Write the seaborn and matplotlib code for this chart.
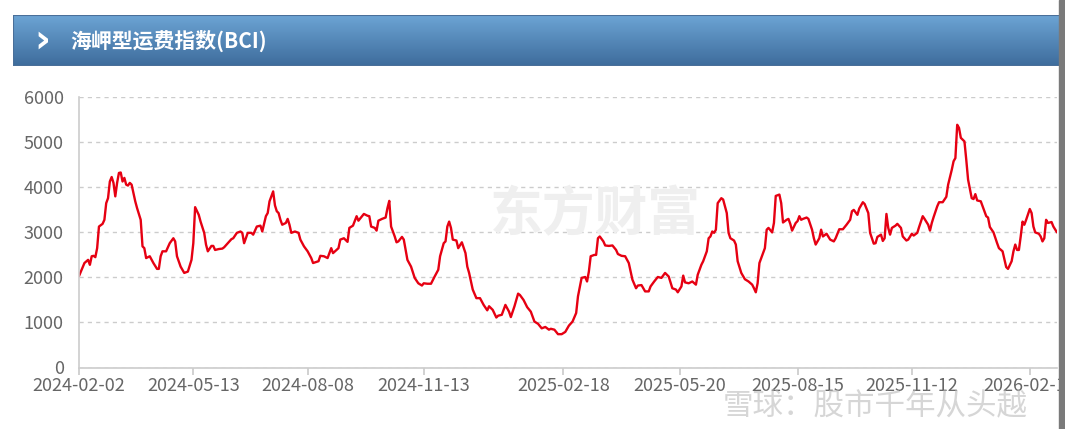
import numpy as np
import pandas as pd
import seaborn as sns
import matplotlib.pyplot as plt
from matplotlib.patches import Rectangle

# BCI readings, x = trading-day number counted from 2024-02-02
day = [0, 3, 5, 6, 7, 8, 9, 10, 11, 13, 14, 15, 16, 17, 18, 19, 20, 21, 22, 23, 24, 25, 26, 27, 28, 29,
       31, 32, 34, 35, 36, 37, 39, 41, 43, 44, 45, 46, 48, 50, 52, 53, 54, 56, 58, 60, 62, 63, 64, 66,
       67, 69, 70, 71, 73, 74, 75, 77, 79, 80, 82, 84, 85, 87, 89, 90, 91, 93, 95, 96, 98, 100, 101, 103,
       104, 105, 107, 108, 109, 110, 111, 112, 114, 115, 116, 117, 119, 121, 122, 124, 126, 128, 129, 132,
       133, 135, 137, 139, 140, 143, 144, 146, 148, 149, 151, 153, 154, 157, 159, 160, 161, 163, 164, 165,
       167, 169, 170, 171, 172, 174, 175, 176, 178, 179, 181, 183, 185, 187, 189, 190, 192, 194, 196, 198,
       199, 201, 202, 203, 204, 205, 206, 208, 209, 211, 213, 214, 215, 217, 219, 221, 223, 225, 226, 228,
       230, 231, 233, 235, 237, 238, 240, 242, 243, 245, 247, 249, 251, 253, 255, 257, 259, 260, 262, 264,
       266, 268, 270, 272, 274, 275, 277, 279, 280, 281, 282, 284, 285, 286, 287, 289, 290, 292, 294, 296,
       297, 299, 301, 303, 305, 307, 308, 310, 312, 314, 315, 317, 319, 321, 323, 325, 327, 329, 330, 332,
       333, 334, 336, 338, 340, 341, 343, 344, 346, 347, 348, 349, 350, 351, 352, 354, 355, 357, 358, 359,
       361, 362, 363, 365, 367, 369, 371, 372, 373, 374, 375, 377, 378, 379, 380, 382, 383, 384, 386, 387,
       388, 390, 391, 392, 393, 395, 396, 397, 398, 399, 401, 402, 404, 405, 406, 408, 409, 410, 412, 414,
       416, 417, 419, 421, 423, 425, 426, 427, 429, 430, 432, 433, 435, 436, 438, 439, 440, 442, 443, 444,
       445, 446, 447, 448, 450, 451, 453, 454, 456, 457, 459, 460, 462, 463, 465, 466, 468, 469, 470, 471,
       473, 474, 476, 478, 479, 481, 482, 483, 484, 485, 486, 488, 489, 490, 492, 493, 494, 495, 497, 498,
       500, 501, 502, 503, 504, 506, 507, 509, 510, 511, 512, 514, 515, 516, 517, 518, 519, 520, 521, 522,
       524, 525, 526, 527, 529, 530, 531, 532, 533, 534, 536, 537, 539]
bci = [2030, 2320, 2390, 2280, 2470, 2480, 2450, 2650, 3130, 3190, 3280, 3650, 3760, 4130, 4230, 4100, 3800,
       4100, 4320, 4330, 4130, 4210, 4060, 4040, 4100, 4060, 3690, 3540, 3280, 2690, 2650, 2430, 2470, 2320,
       2190, 2190, 2470, 2580, 2580, 2760, 2870, 2800, 2470, 2240, 2100, 2130, 2390, 2760, 3560, 3390, 3240,
       2990, 2730, 2580, 2700, 2700, 2610, 2630, 2640, 2670, 2760, 2850, 2870, 2990, 3020, 2990, 2760, 2990,
       2990, 2950, 3130, 3150, 3020, 3360, 3430, 3690, 3910, 3600, 3470, 3430, 3280, 3170, 3210, 3300, 3170,
       2990, 3020, 2990, 2840, 2690, 2580, 2430, 2320, 2360, 2480, 2470, 2430, 2650, 2540, 2650, 2840, 2870,
       2790, 3100, 3150, 3360, 3260, 3410, 3370, 3360, 3130, 3100, 3040, 3260, 3300, 3330, 3540, 3700, 3130,
       2910, 2780, 2800, 2900, 2840, 2390, 2240, 1990, 1870, 1820, 1870, 1860, 1860, 2020, 2170, 2470, 2760,
       2800, 3130, 3240, 3100, 2840, 2820, 2650, 2780, 2540, 2240, 2100, 1730, 1540, 1540, 1390, 1270, 1360,
       1280, 1110, 1150, 1170, 1390, 1240, 1120, 1360, 1640, 1610, 1500, 1340, 1240, 1020, 970, 870, 900,
       840, 860, 840, 740, 740, 790, 930, 1020, 1210, 1580, 1990, 2010, 1910, 2130, 2470, 2500, 2500, 2870,
       2910, 2800, 2710, 2700, 2710, 2610, 2520, 2480, 2470, 2320, 1950, 1760, 1820, 1830, 1690, 1690, 1800,
       1910, 2010, 1990, 2100, 2020, 1760, 1730, 1670, 1800, 2040, 1890, 1870, 1910, 1840, 2060, 2280, 2360,
       2580, 2870, 2910, 3020, 2990, 3060, 3650, 3760, 3730, 3430, 2990, 2870, 2820, 2730, 2360, 2100, 1960,
       1910, 1840, 1760, 1670, 1870, 2320, 2540, 2650, 3060, 3100, 3000, 3210, 3810, 3840, 3650, 3220, 3280,
       3300, 3190, 3040, 3210, 3250, 3360, 3280, 3300, 3330, 3300, 3060, 2870, 2730, 2870, 3060, 2910, 2970,
       2840, 2800, 2870, 3070, 3070, 3170, 3280, 3470, 3500, 3390, 3530, 3670, 3630, 3430, 2990, 2750, 2760,
       2900, 2950, 2810, 2870, 3410, 3100, 2950, 3100, 3150, 3190, 3100, 2910, 2820, 2840, 2970, 2930, 2990,
       3120, 3360, 3300, 3170, 3040, 3210, 3340, 3580, 3670, 3670, 3790, 4060, 4390, 4580, 4650, 5390, 5320,
       5100, 5020, 4610, 4170, 3760, 3740, 3850, 3710, 3690, 3580, 3360, 3330, 3120, 3060, 3000, 2760, 2650,
       2580, 2410, 2230, 2190, 2360, 2580, 2730, 2610, 2610, 2910, 3240, 3170, 3280, 3520, 3430, 3130, 3000,
       2970, 2910, 2800, 2870, 3280, 3210, 3230, 3130, 3000]

tick_pos = [0, 63, 126, 190, 267, 331, 396, 459, 524]
tick_lab = ['2024-02-02', '2024-05-13', '2024-08-08', '2024-11-13', '2025-02-18',
            '2025-05-20', '2025-08-15', '2025-11-12', '2026-02-10']
y_ticks = [0, 1000, 2000, 3000, 4000, 5000, 6000]

df = pd.DataFrame({'day': day, 'BCI': bci})

sns.set_theme(style='white')
plt.rcParams['font.family'] = ['Noto Sans CJK SC', 'DejaVu Sans']

W, H = 1065, 429
fig = plt.figure(figsize=(W / 100, H / 100), dpi=100)

# header bar with blue gradient
hx0, hy0, hy1 = 13, 15, 66
hax = fig.add_axes([hx0 / W, 1 - hy1 / H, 1 - hx0 / W, (hy1 - hy0) / H])
top = np.array([0x6c, 0xa4, 0xd4]) / 255
bot = np.array([0x3e, 0x6c, 0x9c]) / 255
t = np.linspace(0, 1, 60)[:, None, None]
grad = top * (1 - t) + bot * t
hax.imshow(np.repeat(grad, 2, axis=1), aspect='auto', extent=[0, 1, 0, 1])
hax.add_patch(Rectangle((0, 0), 1, 1, transform=hax.transAxes, fill=False,
                        edgecolor='#4a6f99', linewidth=1.5))
hax.set_xlim(0, 1)
hax.set_ylim(0, 1)
hax.axis('off')
hax.text(29 / (W - hx0), 0.5, '›', color='white', fontsize=28, fontweight='bold',
         ha='center', va='center', family=['DejaVu Sans'])
hax.text(57 / (W - hx0), 0.5, '海岬型运费指数(BCI)', color='white', fontsize=15,
         fontweight='bold', ha='left', va='center')

# main chart
ax = fig.add_axes([79 / W, 1 - 367.5 / H, (1057 - 79) / W, (367.5 - 97.3) / H])
sns.lineplot(data=df, x='day', y='BCI', ax=ax, color='#e60012', linewidth=1.7)
ax.set_xlim(0, 539)
ax.set_ylim(0, 6000)
ax.set_yticks(y_ticks)
ax.set_xticks(tick_pos)
ax.set_xticklabels(tick_lab)
ax.set_xlabel('')
ax.set_ylabel('')
ax.grid(axis='y', color='#cccccc', linestyle=(0, (3, 3)), linewidth=1)
ax.grid(axis='x', visible=False)
for s in ['top', 'right']:
    ax.spines[s].set_visible(False)
for s in ['left', 'bottom']:
    ax.spines[s].set_color('#cccccc')
    ax.spines[s].set_linewidth(1.2)
ax.tick_params(axis='y', length=0, labelsize=13, labelcolor='#666666', pad=11)
ax.tick_params(axis='x', length=5, color='#cccccc', labelsize=13, labelcolor='#666666',
               pad=2, bottom=True)

# watermarks
fig.text(595 / W, 1 - 215 / H, '东方财富', fontsize=38, fontweight='bold', color='#efefef',
         ha='center', va='center', zorder=0)
fig.text(875 / W, 1 - 406 / H, '雪球：股市千年从头越', fontsize=22, color='#bbbbbb', alpha=0.6,
         ha='center', va='center')

# right scrollbar edge
fig.patches.append(Rectangle((1059 / W, 0), 6 / W, 1, transform=fig.transFigure,
                             color='#7a7a7a', zorder=10))

fig.savefig('out.png', dpi=100)
